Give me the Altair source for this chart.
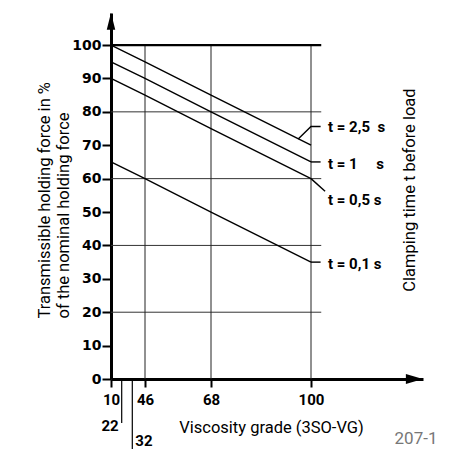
import altair as alt
import pandas as pd

# ---- data ----
grades = [10, 46, 68, 100]
force_t25 = [100, 95, 85, 70]
force_t1 = [95, 90, 80, 65]
force_t05 = [90, 85, 75, 60]
force_t01 = [65, 60, 50, 35]
NB = "\u00a0"
series_names = [f"t = 2,5{NB}{NB}s", f"t = 1{NB}{NB}{NB}{NB}{NB}s", "t = 0,5 s", "t = 0,1 s"]
label_force = [75.6, 64.5, 53.7, 34.5]

y_ticks = list(range(0, 101, 10))
x_ticks = [10, 46, 68, 100]
minor_grades = [22, 32]
h_grid = [20, 40, 60, 80]
v_grid = [46, 68, 100]

# leader lines (grade, force) per label
leader_t25 = [(95.9, 71.9), (100, 75.6), (103, 75.6)]
leader_t1 = [(100, 65), (103, 65)]
leader_t05 = [(100, 60), (104.4, 56.2)]
leader_t01 = [(100, 35), (103, 35)]

TITLE_FONT = "Roboto, sans-serif"
NARROW_BOLD = "Roboto, sans-serif"

rows = []
for name, vals in zip(series_names, [force_t25, force_t1, force_t05, force_t01]):
    for g, v in zip(grades, vals):
        rows.append({"grade": g, "force": v, "series": name})
lines_df = pd.DataFrame(rows)

lrows = []
for name, pts in zip(series_names, [leader_t25, leader_t1, leader_t05, leader_t01]):
    for i, (g, v) in enumerate(pts):
        lrows.append({"grade": g, "force": v, "series": name, "order": i})
leader_df = pd.DataFrame(lrows)

labels_df = pd.DataFrame({"series": series_names, "force": label_force})
hgrid_df = pd.DataFrame({"force": h_grid})
vgrid_df = pd.DataFrame({"grade": v_grid})
minor22_df = pd.DataFrame({"grade": [minor_grades[0]], "label": [str(minor_grades[0])]})
minor32_df = pd.DataFrame({"grade": [minor_grades[1]], "label": [str(minor_grades[1])]})

xscale = alt.Scale(type="linear", domain=[10, 22, 32, 46, 68, 100, 135],
                   range=[0, 10.7, 21.3, 34, 100, 200, 312], nice=False, zero=False)
yscale = alt.Scale(domain=[0, 109.6], nice=False, zero=False)

x_axis = alt.Axis(values=x_ticks, tickCount=20, grid=False, domainColor="black", domainWidth=3,
                  tickColor="black", tickWidth=2, tickSize=8,
                  labelFont=NARROW_BOLD, labelFontWeight="bold", labelFontSize=15,
                  labelColor="black", labelPadding=5, labelFlush=False, labelOverlap=False,
                  title="Viscosity grade (3SO-VG)", titleFont=TITLE_FONT,
                  titleFontSize=16.5, titleFontWeight="normal", titleColor="black",
                  titleX=160, titleY=48, titleBaseline="middle", titleAnchor="middle")
y_axis = alt.Axis(values=y_ticks, tickCount=20, grid=False, domainColor="black", domainWidth=3,
                  tickColor="black", tickWidth=2, tickSize=9,
                  labelFont="DejaVu Sans", labelFontWeight="bold", labelFontSize=14,
                  labelColor="black", labelPadding=1, labelOverlap=False,
                  title=["Transmissible holding force in %", "of the nominal holding force"],
                  titleFont=TITLE_FONT, titleFontSize=16.5, titleFontWeight="normal",
                  titleColor="black", titleAngle=270, titleAlign="left",
                  titleBaseline="middle", titleLineHeight=19, titleX=-67, titleY=305)

X = lambda f: alt.X(f, scale=xscale, axis=x_axis)
Y = lambda f: alt.Y(f, scale=yscale, axis=y_axis)

base_lines = alt.Chart(lines_df).mark_line(color="black", strokeWidth=1.4).encode(
    x=X("grade:Q"), y=Y("force:Q"), detail="series:N",
)

hgrid = alt.Chart(hgrid_df).mark_rule(color="#333333", strokeWidth=1).encode(
    y=Y("force:Q"), x=alt.datum(10), x2=alt.datum(103.2))
top_line = alt.Chart(pd.DataFrame({"force": [100]})).mark_rule(color="black", strokeWidth=2.2).encode(
    y=Y("force:Q"), x=alt.datum(10), x2=alt.datum(103.2))
vgrid = alt.Chart(vgrid_df).mark_rule(color="#222222", strokeWidth=1).encode(
    x=X("grade:Q"), y=alt.datum(0), y2=alt.datum(100))

leaders = alt.Chart(leader_df).mark_line(color="black", strokeWidth=1.4).encode(
    x=X("grade:Q"), y=Y("force:Q"), detail="series:N", order="order:Q")

labels = alt.Chart(labels_df).mark_text(align="left", baseline="middle", font=NARROW_BOLD,
                                        fontWeight="bold", fontSize=15, color="black").encode(
    x=alt.datum(105.3), y=Y("force:Q"), text="series:N")

tick22 = alt.Chart(minor22_df).mark_rule(color="black", strokeWidth=1.2).encode(
    x=X("grade:Q"), y=alt.value(366), y2=alt.value(410))
tick32 = alt.Chart(minor32_df).mark_rule(color="black", strokeWidth=1.2).encode(
    x=X("grade:Q"), y=alt.value(366), y2=alt.value(436))
label22 = alt.Chart(minor22_df).mark_text(align="right", baseline="middle", dx=-3,
                                          font=NARROW_BOLD, fontWeight="bold", fontSize=15,
                                          color="black").encode(
    x=X("grade:Q"), y=alt.value(413), text="label:N")
label32 = alt.Chart(minor32_df).mark_text(align="left", baseline="middle", dx=3,
                                          font=NARROW_BOLD, fontWeight="bold", fontSize=15,
                                          color="black").encode(
    x=X("grade:Q"), y=alt.value(428), text="label:N")

y_arrow = alt.Chart(pd.DataFrame({"g": [10]})).mark_point(
    shape="M-0.5,1L0,-1L0.5,1Z", filled=True, color="black", opacity=1, size=289).encode(
    x=alt.datum(10), y=alt.datum(107.1))
x_arrow = alt.Chart(pd.DataFrame({"g": [0]})).mark_point(
    shape="M-1,-0.6L1,0L-1,0.6Z", filled=True, color="black", opacity=1, size=289).encode(
    x=alt.datum(132.3), y=alt.datum(0))

right_title = alt.Chart(pd.DataFrame({"t": ["Clamping time t before load"]})).mark_text(
    angle=270, align="center", baseline="middle", font=TITLE_FONT, fontSize=16.5,
    color="black").encode(x=alt.value(299), y=alt.value(177), text="t:N")
fig_id = alt.Chart(pd.DataFrame({"t": ["207-1"]})).mark_text(
    align="center", baseline="middle", font=TITLE_FONT, fontSize=17,
    color="#777777").encode(x=alt.value(305), y=alt.value(426), text="t:N")

chart = alt.layer(
    hgrid, vgrid, top_line, base_lines, leaders, labels, tick22, tick32, label22, label32,
    y_arrow, x_arrow, right_title, fig_id
).properties(
    width=312, height=366,
    autosize=alt.AutoSizeParams(type="none"),
    padding={"left": 103, "top": 5, "right": 18, "bottom": 70},
    background="white",
).configure_view(strokeOpacity=0)

chart.save("out.html", embed_options={"renderer": "svg", "actions": False})
